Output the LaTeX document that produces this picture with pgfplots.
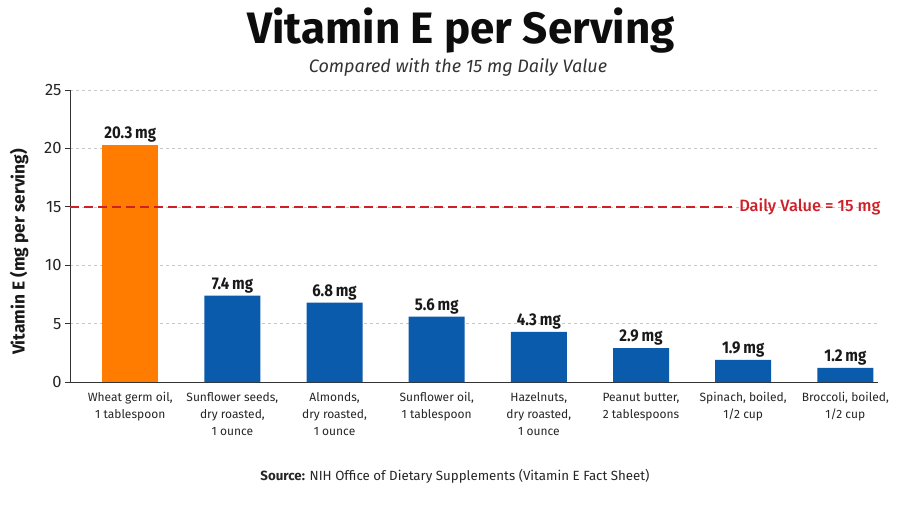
\documentclass[border=0pt]{standalone}
\usepackage{pgfplots}
\pgfplotsset{compat=1.18}
\usepackage{fontspec}
\setmainfont{Fira Sans}
\newfontfamily\condfont[FakeStretch=0.88]{Fira Sans}
\newfontfamily\medfont{Fira Sans Medium}
\definecolor{barorange}{RGB}{255,124,0}
\definecolor{barblue}{RGB}{10,91,172}
\definecolor{dvred}{RGB}{206,32,40}
\begin{document}
\begin{tikzpicture}[x=1pt,y=1pt]
\path[use as bounding box] (0,0) rectangle (900,507);
\begin{axis}[
  at={(70pt,125pt)}, anchor=south west,
  scale only axis, width=808pt, height=292pt,
  xmin=-0.59, xmax=7.32, ymin=0, ymax=25,
  ytick={0,5,10,15,20,25},
  xtick={0,...,7},
  xticklabels={{Wheat germ oil,\\1 tablespoon},{Sunflower seeds,\\dry roasted,\\1 ounce},{Almonds,\\dry roasted,\\1 ounce},{Sunflower oil,\\1 tablespoon},{Hazelnuts,\\dry roasted,\\1 ounce},{Peanut butter,\\2 tablespoons},{Spinach, boiled,\\1/2 cup},{Broccoli, boiled,\\1/2 cup}},
  xticklabel style={align=center, font=\fontsize{12}{17}\selectfont, text=black!85, yshift=-2pt},
  yticklabel style={font=\fontsize{16.5}{18}\selectfont, text=black!85},
  /pgf/number format/assume math mode=true,
  axis x line*=bottom, axis y line*=left,
  axis line style={black!80, line width=1pt},
  x axis line style={-}, y axis line style={-},
  xtick style={draw=none},
  ytick style={black!80, line width=0.8pt},
  tick align=outside, major tick length=5pt,
  ymajorgrids, grid style={dash pattern=on 3pt off 3pt, black!22, line width=0.6pt},
  ybar, bar width=56pt, bar shift=0pt,
  nodes near coords={\pgfmathprintnumber[fixed,precision=1,fixed zerofill]{\pgfplotspointmeta}\,mg},
  every node near coord/.append style={font=\condfont\bfseries\fontsize{17}{19}\selectfont, text=black!90, inner sep=2.5pt},
  clip=false,
]
\addplot[fill=barorange, draw=none] coordinates {(0,20.3)};
\addplot[fill=barblue, draw=none] coordinates {(1,7.4) (2,6.8) (3,5.6) (4,4.3) (5,2.9) (6,1.9) (7,1.2)};
\addplot[sharp plot, nodes near coords={}, dvred, line width=1.5pt, dash pattern=on 9pt off 5pt, forget plot] coordinates {(-0.59,15) (5.89,15)};
\node[anchor=west, text=dvred, font=\medfont\fontsize{16.4}{18}\selectfont, inner sep=0pt] at (axis cs:5.96,15) {Daily Value = 15 mg};
\end{axis}
\node[font=\bfseries\fontsize{44}{48}\selectfont, text=black!95] at (461,476) {Vitamin E per Serving};
\node[font=\itshape\fontsize{18}{20}\selectfont, text=black!80] at (458,440) {Compared with the 15 mg Daily Value};
\node[rotate=90, font=\bfseries\fontsize{17.3}{19}\selectfont, text=black!90] at (19,255) {Vitamin E (mg per serving)};
\node[font=\fontsize{13.3}{16}\selectfont, text=black!85] at (455,31) {\textbf{Source:} NIH Office of Dietary Supplements (Vitamin E Fact Sheet)};
\end{tikzpicture}
\end{document}
